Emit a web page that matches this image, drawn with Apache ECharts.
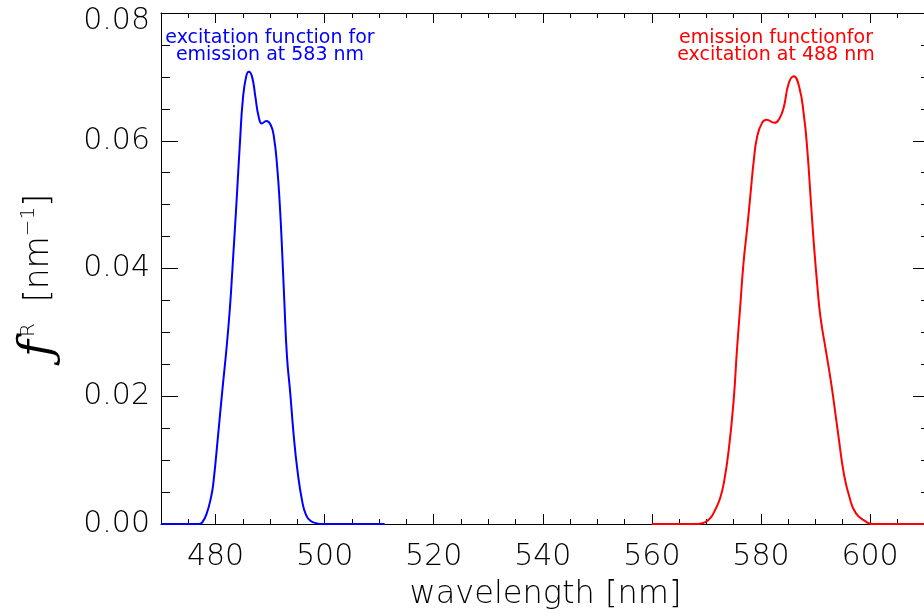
<!DOCTYPE html>
<html>
<head>
<meta charset="utf-8">
<script src="https://cdn.jsdelivr.net/npm/echarts@6/dist/echarts.min.js"></script>
<style>
html,body{margin:0;padding:0;background:#fff;}
#chart{width:924px;height:614px;}
</style>
</head>
<body>
<div id="chart"></div>
<script>
// ---- data ----
var blueX = [470, 477.0, 477.6, 478.4, 479.2, 479.6, 480.5, 481.2, 482.1, 482.7, 483.1, 483.5, 483.9, 484.5, 485.0, 485.6, 486.1, 486.7, 487.3, 487.9, 488.5, 489.3, 490.1, 490.7, 491.3, 491.8, 492.2, 492.6, 493.1, 493.7, 494.3, 495.0, 495.9, 496.6, 497.4, 498.6, 499.5, 511.0];
var blueY = [0, 0, 0.0003, 0.0017, 0.0043, 0.0064, 0.0142, 0.0205, 0.0283, 0.0346, 0.0400, 0.0455, 0.0512, 0.0601, 0.0664, 0.0700, 0.0708, 0.0700, 0.0669, 0.0638, 0.0627, 0.0631, 0.0625, 0.0606, 0.0559, 0.0497, 0.0429, 0.0351, 0.0262, 0.0205, 0.0142, 0.0085, 0.0035, 0.0014, 0.0005, 0.0001, 0, 0];
var redX = [560, 568.5, 569.8, 570.8, 571.6, 572.5, 573.2, 574.1, 575.0, 575.6, 576.2, 576.8, 577.5, 578.1, 578.7, 579.3, 580.2, 581.0, 582.5, 583.4, 584.2, 585.1, 586.0, 587.0, 587.9, 588.5, 589.1, 589.7, 590.3, 590.9, 591.9, 592.8, 593.4, 594.3, 595.2, 596.2, 597.4, 599.2, 600.4, 611];
var redY = [0, 0, 0.0003, 0.0010, 0.0022, 0.0040, 0.0064, 0.0116, 0.0194, 0.0272, 0.0340, 0.0408, 0.0465, 0.0518, 0.0570, 0.0606, 0.0628, 0.0633, 0.0628, 0.0635, 0.0653, 0.0690, 0.0701, 0.0685, 0.0638, 0.0586, 0.0512, 0.0439, 0.0377, 0.0325, 0.0272, 0.0225, 0.0189, 0.0132, 0.0079, 0.0043, 0.0017, 0.0004, 0, 0];
var xMajorTicks = [480, 500, 520, 540, 560, 580, 600];
var xMin = 470, xMax = 611;
var yMin = 0, yMax = 0.08, yStep = 0.02;
var blueNote = 'excitation function for\nemission at 583 nm';
var redNote = 'emission functionfor\nexcitation at 488 nm';

function pairs(xs, ys) { return xs.map(function (x, i) { return [x, ys[i]]; }); }

var FONT = 'DejaVu Sans';
var chart = echarts.init(document.getElementById('chart'), null, {renderer: 'canvas'});
var black = '#000';

function xAxisMajor(pos, showLabel, name) {
  return {
    type: 'value', position: pos, min: xMin, max: xMax,
    splitLine: {show: false},
    axisLine: {show: true, onZero: false, lineStyle: {color: black, width: 1}},
    axisTick: {show: true, inside: true, length: 10, customValues: xMajorTicks, lineStyle: {color: black, width: 1}},
    axisLabel: {show: showLabel, customValues: xMajorTicks, margin: 18, color: black, fontSize: 30, fontFamily: FONT, fontWeight: 200},
    name: name || '', nameLocation: 'middle', nameGap: 55,
    nameTextStyle: {color: black, fontSize: 32, fontFamily: FONT, fontWeight: 200}
  };
}
function xAxisMinor(pos) {
  return {
    type: 'value', position: pos, min: xMin, max: xMax, interval: 5,
    splitLine: {show: false},
    axisLine: {show: false, onZero: false},
    axisTick: {show: true, inside: true, length: 5, lineStyle: {color: black, width: 1}},
    axisLabel: {show: false}
  };
}
function yAxisDef(pos, showLabel) {
  var a = {
    type: 'value', position: pos, min: yMin, max: yMax, interval: yStep,
    splitLine: {show: false},
    axisLine: {show: true, onZero: false, lineStyle: {color: black, width: 1}},
    axisTick: {show: true, inside: true, length: 17, lineStyle: {color: black, width: 1}},
    minorTick: {show: true, splitNumber: 4, length: 9, lineStyle: {color: black, width: 1}},
    axisLabel: {
      show: showLabel, margin: 11, color: black, fontSize: 30, fontFamily: FONT, fontWeight: 200,
      formatter: function (v) {
        var s = v.toFixed(2);
        return Math.abs(v - yMax) < 1e-9 ? '{top|' + s + '}' : s;
      },
      rich: {top: {fontSize: 30, fontFamily: FONT, fontWeight: 200, color: black, padding: [16, 0, 0, 0]}}
    }
  };
  if (showLabel) {
    a.name = '{f|ƒ}{sup|R}  [nm{sup|−1}]';
    a.nameLocation = 'middle';
    a.nameGap = 102;
    a.nameRotate = 90;
    a.nameTextStyle = {
      color: black, fontSize: 33, fontFamily: FONT, fontWeight: 200, lineHeight: 40,
      padding: [0, 14, 0, 0],
      rich: {
        f: {fontSize: 46, fontFamily: 'DejaVu Serif', fontStyle: 'italic', color: black, lineHeight: 40, padding: [0, 3, 0, 0]},
        sup: {fontSize: 20, fontFamily: FONT, fontWeight: 200, color: black, verticalAlign: 'top', lineHeight: 40}
      }
    };
  }
  return a;
}

var option = {
  animation: false,
  backgroundColor: '#fff',
  grid: {left: 161, right: -6, top: 13, bottom: 90, containLabel: false, outerBoundsMode: 'none'},
  xAxis: [xAxisMajor('bottom', true, 'wavelength [nm]'), xAxisMinor('bottom'), xAxisMajor('top', false), xAxisMinor('top')],
  yAxis: [yAxisDef('left', true), yAxisDef('right', false)],
  series: [
    {type: 'line', xAxisIndex: 0, yAxisIndex: 0, data: pairs(blueX, blueY), showSymbol: false, smooth: 0.5,
      lineStyle: {color: '#0000ff', width: 2}, itemStyle: {color: '#0000ff'}, clip: false},
    {type: 'line', xAxisIndex: 0, yAxisIndex: 0, data: pairs(redX, redY), showSymbol: false, smooth: 0.5,
      lineStyle: {color: '#ff0000', width: 2}, itemStyle: {color: '#ff0000'}, clip: false}
  ],
  graphic: [
    {type: 'text', x: 270, y: 47, style: {text: blueNote, fill: '#0000ff', fontSize: 19, fontFamily: FONT, align: 'center', verticalAlign: 'middle', lineHeight: 17}},
    {type: 'text', x: 776, y: 47, style: {text: redNote, fill: '#ff0000', fontSize: 19, fontFamily: FONT, align: 'center', verticalAlign: 'middle', lineHeight: 17}}
  ]
};
chart.setOption(option);
</script>
</body>
</html>
